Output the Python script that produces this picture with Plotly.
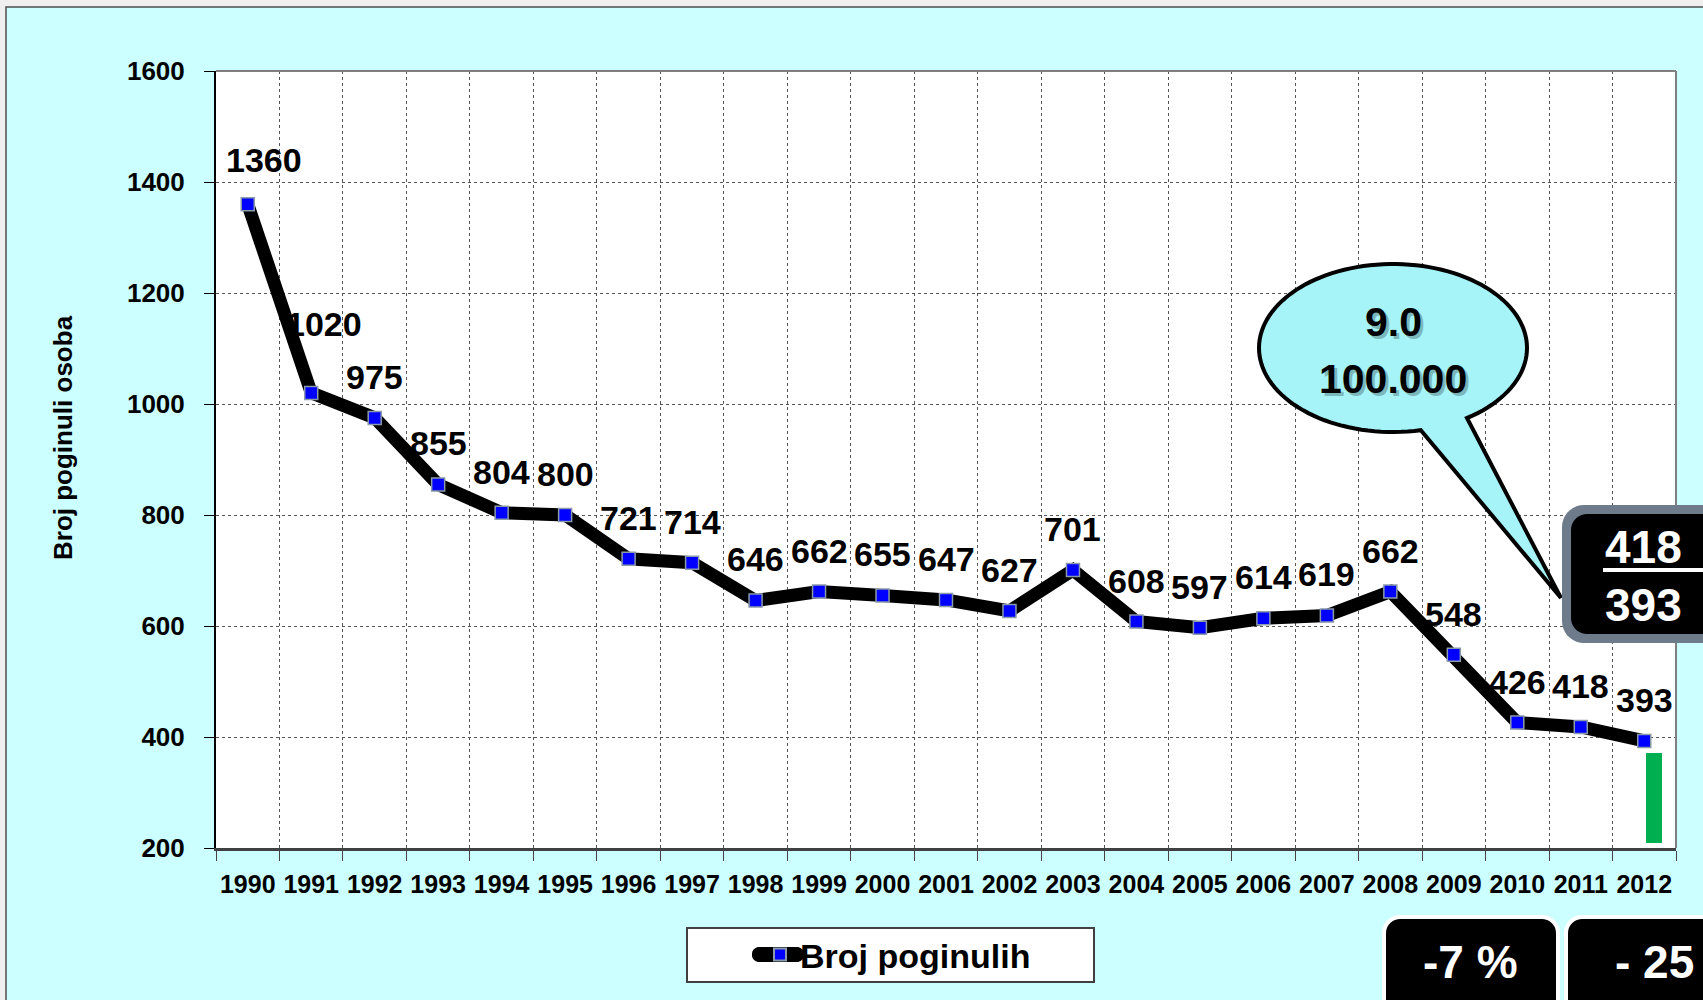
import numpy as np
import plotly.graph_objects as go

# data
YEARS = ["1990", "1991", "1992", "1993", "1994", "1995", "1996", "1997",
         "1998", "1999", "2000", "2001", "2002", "2003", "2004", "2005",
         "2006", "2007", "2008", "2009", "2010", "2011", "2012"]
FATALITIES = [1360, 1020, 975, 855, 804, 800, 721, 714, 646, 662, 655, 647,
              627, 701, 608, 597, 614, 619, 662, 548, 426, 418, 393]
SERIES_NAME = "Broj poginulih"
Y_TITLE = "Broj poginuli osoba"
Y_TICKS = [200, 400, 600, 800, 1000, 1200, 1400, 1600]

GREEN_BAR_YEAR = "2012"
GREEN_BAR_LOW = 209
GREEN_BAR_HIGH = 371

RATE_LINES = ["9.0", "100.000"]
COMPARE_LINES = ["418", "393"]
CHANGE_LABELS = ["-7 %", "- 25"]

FONT = "Liberation Sans, Arial, sans-serif"

W, H = 1703, 1000
PLOT_L, PLOT_R, PLOT_T, PLOT_B = 216, 1676, 71, 848
PLOT_W = PLOT_R - PLOT_L
PLOT_H = PLOT_B - PLOT_T

# label nudges (pixels) where the default "above the point" does not fit
LABEL_NUDGE = {"1990": (16, 44), "1991": (13, 69)}


def to_paper(px, py):
    return (px - PLOT_L) / PLOT_W, (PLOT_B - py) / PLOT_H


def path_from(points):
    pts = [to_paper(x, y) for x, y in points]
    return "M " + " L ".join(f"{x:.5f},{y:.5f}" for x, y in pts) + " Z"


def rounded_rect(x0, y0, x1, y1, r, n=10):
    pts = []
    corners = [(x1 - r, y0 + r, -90, 0), (x1 - r, y1 - r, 0, 90),
               (x0 + r, y1 - r, 90, 180), (x0 + r, y0 + r, 180, 270)]
    for cx, cy, a0, a1 in corners:
        for t in np.linspace(np.radians(a0), np.radians(a1), n):
            pts.append((cx + r * np.cos(t), cy + r * np.sin(t)))
    return path_from(pts)


def callout_path():
    cx, cy, rx, ry = 1393, 348, 134, 84
    t_a, t_b = np.radians(78), np.radians(56.5)
    tip = (1561, 598)
    pts = [(cx + rx * np.cos(t_a), cy + ry * np.sin(t_a)), tip,
           (cx + rx * np.cos(t_b), cy + ry * np.sin(t_b))]
    for t in np.linspace(t_b, t_a - 2 * np.pi, 120):
        pts.append((cx + rx * np.cos(t), cy + ry * np.sin(t)))
    return path_from(pts)


def paper_text(text, px, py, size, color, xanchor="center"):
    x, y = to_paper(px, py)
    return dict(x=x, y=y, xref="paper", yref="paper", text=f"<b>{text}</b>",
                showarrow=False, xanchor=xanchor, yanchor="middle",
                font=dict(family=FONT, size=size, color=color))


fig = go.Figure()

fig.add_trace(
    go.Scatter(
        x=YEARS,
        y=FATALITIES,
        mode="lines+markers",
        name=SERIES_NAME,
        line=dict(color="black", width=13),
        marker=dict(symbol="square", size=13, color="#0000FF",
                    line=dict(color="#8C9BAA", width=1.5)),
        hovertemplate="%{x}: %{y}<extra></extra>",
    )
)

fig.add_trace(
    go.Bar(
        x=[GREEN_BAR_YEAR],
        y=[GREEN_BAR_HIGH - GREEN_BAR_LOW],
        base=[GREEN_BAR_LOW],
        width=0.25,
        offset=0.03,
        marker=dict(color="#00B050", line=dict(width=0)),
        showlegend=False,
        hoverinfo="skip",
    )
)

annotations = []
for i, (year, value) in enumerate(zip(YEARS, FATALITIES)):
    dx, dy = LABEL_NUDGE.get(year, (0, 41))
    annotations.append(dict(
        x=i, y=value, xref="x", yref="y", text=f"<b>{value}</b>",
        showarrow=False, xshift=dx, yshift=dy,
        xanchor="center", yanchor="middle",
        font=dict(family=FONT, size=34, color="black"),
    ))

# y axis title placed as rotated text
ytitle = paper_text(Y_TITLE, 63, 438, 26, "black")
ytitle["textangle"] = -90
annotations.append(ytitle)

# callout text with a soft shadow
for line, py in zip(RATE_LINES, [322, 379]):
    shadow = paper_text(line, 1393, py, 41, "rgba(0,0,0,0.25)")
    shadow.update(xshift=3, yshift=-3)
    annotations.append(shadow)
    annotations.append(paper_text(line, 1393, py, 41, "black"))

for line, py in zip(COMPARE_LINES, [547, 605]):
    annotations.append(paper_text(line, 1603, py, 46, "white", xanchor="left"))

for label, (px, anchor) in zip(CHANGE_LABELS, [(1470, "center"), (1613, "left")]):
    annotations.append(paper_text(label, px, 962, 46, "white", xanchor=anchor))

bx0, by0 = to_paper(6, 7)
bx1, by1 = to_paper(1720, 1020)
lx0, ly0 = to_paper(687, 928)
lx1, ly1 = to_paper(1094, 982)
ux0, uy = to_paper(1603, 570)
ux1, _ = to_paper(1720, 570)

shapes = [
    dict(type="rect", xref="paper", yref="paper", x0=bx0, y0=by0, x1=bx1, y1=by1,
         fillcolor="#CCFFFF", line=dict(color="#4D4D4D", width=1.5), layer="below"),
    dict(type="rect", xref="paper", yref="paper", x0=0, y0=0, x1=1, y1=1,
         fillcolor="white", line=dict(width=0), layer="below"),
    dict(type="line", xref="paper", yref="paper", x0=0, y0=1, x1=1, y1=1,
         line=dict(color="#7F7F7F", width=2)),
    dict(type="line", xref="paper", yref="paper", x0=1, y0=0, x1=1, y1=1,
         line=dict(color="#7F7F7F", width=2)),
    dict(type="path", xref="paper", yref="paper", path=callout_path(),
         fillcolor="#A6F4F8", line=dict(color="black", width=4)),
    dict(type="path", xref="paper", yref="paper",
         path=rounded_rect(1562, 505, 1740, 643, 22),
         fillcolor="#6E7B8B", line=dict(width=0)),
    dict(type="path", xref="paper", yref="paper",
         path=rounded_rect(1571, 514, 1740, 634, 16),
         fillcolor="black", line=dict(width=0)),
    dict(type="line", xref="paper", yref="paper", x0=ux0, y0=uy, x1=ux1, y1=uy,
         line=dict(color="white", width=4)),
    dict(type="path", xref="paper", yref="paper",
         path=rounded_rect(1384, 917, 1558, 1030, 16),
         fillcolor="black", line=dict(color="white", width=4)),
    dict(type="path", xref="paper", yref="paper",
         path=rounded_rect(1566, 917, 1760, 1030, 16),
         fillcolor="black", line=dict(color="white", width=4)),
    dict(type="rect", xref="paper", yref="paper", x0=lx0, y0=ly0, x1=lx1, y1=ly1,
         fillcolor="white", line=dict(color="#404040", width=2)),
    # thick rounded stroke behind the legend symbol, like the Excel legend key
    dict(type="path", xref="paper", yref="paper",
         path=rounded_rect(752, 947, 804, 962, 7),
         fillcolor="black", line=dict(width=0)),
]

leg_x, leg_y = to_paper(760, 955)

fig.update_layout(
    width=W,
    height=H,
    margin=dict(l=PLOT_L, r=W - PLOT_R, t=PLOT_T, b=H - PLOT_B, pad=0),
    paper_bgcolor="#EFEFEF",
    plot_bgcolor="white",
    showlegend=True,
    legend=dict(
        x=leg_x, y=leg_y, xanchor="left", yanchor="middle",
        orientation="h", bgcolor="rgba(0,0,0,0)", borderwidth=0,
        itemsizing="constant",
        font=dict(family=FONT, size=34, color="black", weight="bold"),
    ),
    xaxis=dict(
        type="category",
        categoryorder="array",
        categoryarray=YEARS,
        range=[-0.5, len(YEARS) - 0.5],
        tickson="boundaries",
        tickangle=0,
        showgrid=True, gridcolor="#555555", griddash="dot", gridwidth=1,
        ticks="outside", ticklen=10, tickcolor="#444444", tickwidth=1,
        showline=True, linecolor="#404040", linewidth=3,
        tickfont=dict(family=FONT, size=25, color="black", weight="bold"),
        ticklabelstandoff=12,
    ),
    yaxis=dict(
        range=[200, 1600],
        tickvals=Y_TICKS,
        showgrid=True, gridcolor="#555555", griddash="dot", gridwidth=1,
        zeroline=False,
        ticks="outside", ticklen=10, tickcolor="black", tickwidth=1,
        showline=True, linecolor="black", linewidth=2,
        tickfont=dict(family=FONT, size=26, color="black", weight="bold"),
        ticklabelstandoff=14,
    ),
    bargap=0,
    shapes=shapes,
    annotations=annotations,
)

fig.write_html("out.html", config={"displayModeBar": False},
               post_script="document.body.style.margin='0';")
